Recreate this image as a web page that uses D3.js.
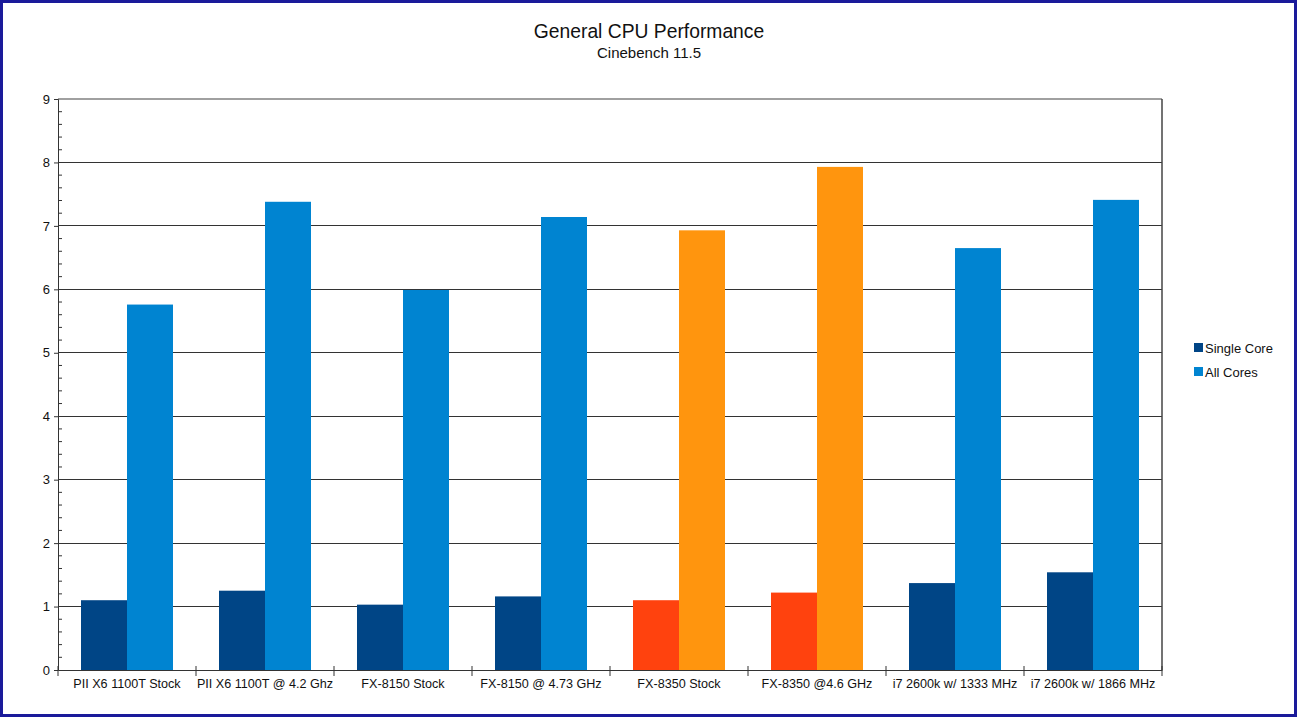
<!DOCTYPE html>
<html>
<head>
<meta charset="utf-8">
<script src="https://cdn.jsdelivr.net/npm/d3@7"></script>
<style>
  body { margin: 0; background: #fff; }
  text { font-family: "Liberation Sans", Arial, sans-serif; fill: #111; }
</style>
</head>
<body>
<svg id="chart" width="1299" height="720"></svg>
<script>
// Chart data
const categories = [
  'PII X6 1100T Stock', 'PII X6 1100T @ 4.2 Ghz', 'FX-8150 Stock', 'FX-8150 @ 4.73 GHz',
  'FX-8350 Stock', 'FX-8350 @4.6 GHz', 'i7 2600k w/ 1333 MHz', 'i7 2600k w/ 1866 MHz',
];
const singleCore = [1.10, 1.25, 1.03, 1.16, 1.10, 1.22, 1.37, 1.54];
const allCores = [5.76, 7.38, 5.99, 7.14, 6.93, 7.93, 6.65, 7.41];
const highlighted = ['FX-8350 Stock', 'FX-8350 @4.6 GHz'];
const seriesNames = ['Single Core', 'All Cores'];
const yTicks = [0, 1, 2, 3, 4, 5, 6, 7, 8, 9];

// Colours (LibreOffice default palette)
const blue = ['#004586', '#0084d1'];
const orange = ['#ff420e', '#ff950e'];

const svg = d3.select('#chart');

// Outer frame
svg.append('rect')
  .attr('x', 1.5).attr('y', 1.5)
  .attr('width', 1294).attr('height', 714)
  .attr('fill', '#fff')
  .attr('stroke', '#1a1a9a')
  .attr('stroke-width', 3);

const plot = { left: 58, right: 1162, top: 99, bottom: 670 };

const x = d3.scaleBand()
  .domain(categories)
  .range([plot.left, plot.right])
  .paddingInner(0).paddingOuter(0);

const inner = d3.scaleBand()
  .domain(seriesNames)
  .range([x.bandwidth() / 6, x.bandwidth() * 5 / 6]);

const y = d3.scaleLinear()
  .domain([0, 9])
  .range([plot.bottom, plot.top]);

// Titles
svg.append('text')
  .attr('x', 649).attr('y', 38)
  .attr('text-anchor', 'middle')
  .attr('font-size', 19.3)
  .text('General CPU Performance');
svg.append('text')
  .attr('x', 649).attr('y', 58)
  .attr('text-anchor', 'middle')
  .attr('font-size', 15)
  .text('Cinebench 11.5');

// Grid lines
svg.append('g')
  .selectAll('line')
  .data(yTicks.filter(d => d > 0))
  .join('line')
  .attr('x1', plot.left).attr('x2', plot.right)
  .attr('y1', d => y(d)).attr('y2', d => y(d))
  .attr('stroke', d => (d === 9 ? '#a0a0a0' : '#333'))
  .attr('stroke-width', d => (d === 9 ? 2 : 1.2))
  .attr('shape-rendering', 'crispEdges');

// Right edge of plot area
svg.append('line')
  .attr('x1', plot.right).attr('x2', plot.right)
  .attr('y1', plot.top).attr('y2', plot.bottom)
  .attr('stroke', '#444').attr('stroke-width', 1.5);

// Bars
const groups = svg.append('g')
  .selectAll('g')
  .data(categories)
  .join('g')
  .attr('transform', d => `translate(${x(d)},0)`);

groups.each(function (cat, i) {
  const colours = highlighted.includes(cat) ? orange : blue;
  const vals = [singleCore[i], allCores[i]];
  d3.select(this).selectAll('rect')
    .data(vals)
    .join('rect')
    .attr('x', (d, j) => inner(seriesNames[j]))
    .attr('width', inner.bandwidth())
    .attr('y', d => y(d))
    .attr('height', d => y(0) - y(d))
    .attr('fill', (d, j) => colours[j]);
});

// Y axis
const yAxis = d3.axisLeft(y)
  .tickValues(yTicks)
  .tickSize(4)
  .tickPadding(4)
  .tickFormat(d3.format('d'));

const yg = svg.append('g')
  .attr('transform', `translate(${plot.left},0)`)
  .call(yAxis);
yg.select('.domain').attr('stroke', '#333');
yg.selectAll('.tick line').attr('stroke', '#333');
yg.selectAll('.tick text')
  .attr('font-size', 13)
  .attr('font-family', '"Liberation Sans", Arial, sans-serif')
  .attr('fill', '#111');

// Minor ticks (5 per unit, inside plot)
const minor = d3.range(0, 9, 0.2).filter(d => Math.abs(d - Math.round(d)) > 0.01);
svg.append('g')
  .selectAll('line')
  .data(minor)
  .join('line')
  .attr('x1', plot.left).attr('x2', plot.left + 4)
  .attr('y1', d => y(d)).attr('y2', d => y(d))
  .attr('stroke', '#333');

// X axis
const xAxis = d3.axisBottom(x).tickSize(0).tickPadding(9);
const xg = svg.append('g')
  .attr('transform', `translate(0,${plot.bottom})`)
  .call(xAxis);
xg.select('.domain').attr('stroke', '#333').attr('stroke-width', 1.2);
xg.selectAll('.tick text')
  .attr('font-size', 12.6)
  .attr('font-family', '"Liberation Sans", Arial, sans-serif')
  .attr('fill', '#111');

// Category boundary ticks
const bounds = d3.range(categories.length + 1).map(i => plot.left + i * x.step());
svg.append('g')
  .selectAll('line')
  .data(bounds)
  .join('line')
  .attr('x1', d => d).attr('x2', d => d)
  .attr('y1', plot.bottom - 4).attr('y2', plot.bottom + 6)
  .attr('stroke', '#333');

// Legend
const legend = svg.append('g')
  .selectAll('g')
  .data(seriesNames)
  .join('g')
  .attr('transform', (d, i) => `translate(1194,${343 + i * 24})`);
legend.append('rect')
  .attr('width', 9).attr('height', 9)
  .attr('fill', (d, i) => blue[i]);
legend.append('text')
  .attr('x', 11).attr('y', 9.5)
  .attr('font-size', 13)
  .text(d => d);
</script>
</body>
</html>
